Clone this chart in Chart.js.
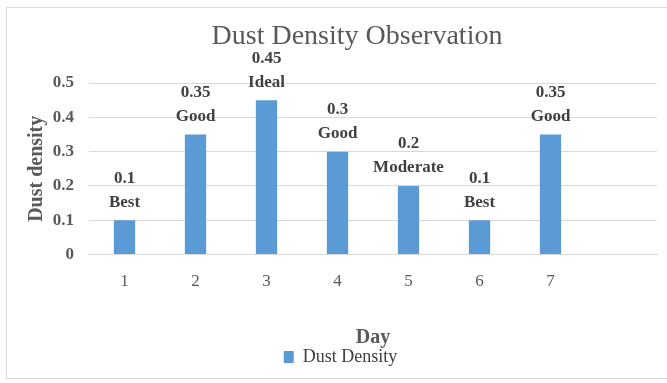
<!DOCTYPE html>
<html>
<head>
<meta charset="utf-8">
<script src="https://cdn.jsdelivr.net/npm/chart.js@4.4.0/dist/chart.umd.min.js"></script>
<style>
    html, body { margin: 0; padding: 0; background: #fff; }
    #wrap { position: relative; width: 667px; height: 383px; overflow: hidden; }
    #frame { position: absolute; left: 6px; top: 7px; width: 700px; height: 372px; border: 1px solid #d9d9d9; box-sizing: border-box; }
    #chart { position: absolute; left: 0; top: 0; }
</style>
</head>
<body>
<div id="wrap">
    <div id="frame"></div>
    <canvas id="chart" width="667" height="383"></canvas>
</div>
<script>
    // days on the x axis, last slot is empty like in the excel chart
    const days = ['1', '2', '3', '4', '5', '6', '7', ''];
    const dustDensity = [0.1, 0.35, 0.45, 0.3, 0.2, 0.1, 0.35, null];
    const airStatus = ['Best', 'Good', 'Ideal', 'Good', 'Moderate', 'Best', 'Good', ''];
    const yTicks = [0, 0.1, 0.2, 0.3, 0.4, 0.5];

    const chartTitle = 'Dust Density Observation';
    const serif = 'Liberation Serif';

    // title + "value / status" labels above every bar
    const barLabels = {
        id: 'barLabels',
        afterDatasetsDraw(chart) {
            const ctx = chart.ctx;
            const meta = chart.getDatasetMeta(0);
            ctx.save();
            ctx.textAlign = 'center';
            ctx.textBaseline = 'middle';

            ctx.font = '28px "' + serif + '"';
            ctx.fillStyle = '#595959';
            ctx.fillText(chartTitle, 357, 37);

            ctx.font = 'bold 17px "' + serif + '"';
            ctx.fillStyle = '#404040';
            meta.data.forEach((bar, i) => {
                if (dustDensity[i] === null) return;
                ctx.fillText(String(dustDensity[i]), bar.x, bar.y - 42);
                ctx.fillText(airStatus[i], bar.x, bar.y - 18);
            });
            ctx.restore();
        }
    };

    new Chart(document.getElementById('chart'), {
        type: 'bar',
        data: {
            labels: days,
            datasets: [{
                label: 'Dust Density',
                data: dustDensity,
                backgroundColor: '#5b9bd5',
                barPercentage: 0.3,
                categoryPercentage: 1
            }]
        },
        options: {
            responsive: false,
            animation: false,
            layout: {padding: {left: 24, right: 10, top: 83, bottom: 7}},
            plugins: {
                title: {display: false},
                legend: {
                    position: 'bottom',
                    labels: {
                        color: '#404040',
                        font: {family: serif, size: 18},
                        boxWidth: 10,
                        boxHeight: 12,
                        padding: 0
                    }
                },
                tooltip: {enabled: false}
            },
            scales: {
                x: {
                    grid: {display: false, drawTicks: false},
                    border: {color: '#d9d9d9'},
                    ticks: {
                        color: '#595959',
                        font: {family: serif, size: 17},
                        padding: 17
                    },
                    title: {
                        display: true,
                        text: 'Day',
                        color: '#595959',
                        font: {family: serif, size: 20, weight: 'bold', lineHeight: 1},
                        padding: {top: 19, bottom: 0}
                    }
                },
                y: {
                    min: 0,
                    max: 0.5,
                    afterBuildTicks(axis) {
                        axis.ticks = yTicks.map(v => ({value: v}));
                    },
                    afterFit(axis) {
                        axis.width = 65;
                    },
                    grid: {color: '#d9d9d9', drawTicks: false},
                    border: {display: false},
                    ticks: {
                        color: '#595959',
                        font: {family: serif, size: 17, weight: 'bold'},
                        padding: 15,
                        callback: v => String(v)
                    },
                    title: {
                        display: true,
                        text: 'Dust density',
                        color: '#595959',
                        font: {family: serif, size: 20, weight: 'bold', lineHeight: 1},
                        padding: {top: 3, bottom: 0}
                    }
                }
            }
        },
        plugins: [barLabels]
    });
</script>
</body>
</html>
